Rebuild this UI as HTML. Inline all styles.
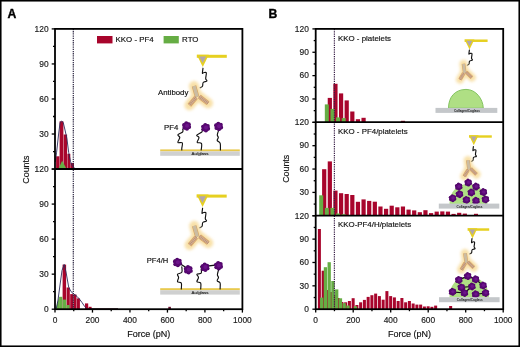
<!DOCTYPE html>
<html><head><meta charset="utf-8"><title>Figure</title>
<style>html,body{margin:0;padding:0;background:#fff;} body{width:520px;height:347px;overflow:hidden;font-family:"Liberation Sans", sans-serif;} svg{display:block;will-change:transform;}</style>
</head><body>
<svg width="520" height="347" viewBox="0 0 520 347">
<defs>
<filter id="glow" x="-80%" y="-80%" width="260%" height="260%"><feGaussianBlur stdDeviation="1.7"/></filter>
<filter id="soft" x="-20%" y="-20%" width="140%" height="140%"><feGaussianBlur stdDeviation="0.35"/></filter>
</defs>
<style>.ax{stroke:#000;stroke-width:1.3;} .tl{font-family:"Liberation Sans", sans-serif;font-size:8.4px;fill:#1a1a1a;stroke:#1a1a1a;stroke-width:0.16px;} text{font-family:"Liberation Sans", sans-serif;} .lb{fill:#111;stroke:#111;stroke-width:0.16px;}</style>
<rect x="0" y="0" width="520" height="347" fill="#fff"/>
<rect x="56.10" y="156.30" width="3.30" height="12.70" fill="#a8052c"/>
<rect x="59.60" y="121.30" width="3.80" height="47.70" fill="#a8052c"/>
<rect x="63.70" y="134.50" width="3.40" height="34.50" fill="#a8052c"/>
<rect x="67.40" y="153.80" width="2.90" height="15.20" fill="#a8052c"/>
<rect x="70.40" y="163.00" width="3.60" height="6.00" fill="#a8052c"/>
<polygon points="58.3,169.0 62.2,160.8 66.6,169.0" fill="#66ad44"/>
<rect x="86" y="168.1" width="18" height="0.9" fill="#5a1020"/>
<polyline points="55.3,162 56.6,152.2 58.5,135 60.1,122.4 61.7,121.2 63.2,122.4 65,130 66.9,138.5 68.7,152.5 70.5,161.5 72.5,166.3 75,168.5 78,169" fill="none" stroke="#2c2c5c" stroke-width="0.9"/>
<rect x="62.60" y="264.60" width="3.50" height="44.60" fill="#a8052c"/>
<rect x="66.60" y="287.50" width="3.20" height="21.70" fill="#a8052c"/>
<rect x="70.20" y="294.10" width="3.00" height="15.10" fill="#a8052c"/>
<rect x="73.40" y="294.50" width="3.10" height="14.70" fill="#a8052c"/>
<rect x="76.80" y="298.40" width="3.10" height="10.80" fill="#a8052c"/>
<rect x="85.00" y="303.40" width="3.20" height="5.80" fill="#a8052c"/>
<rect x="88.60" y="306.80" width="3.00" height="2.40" fill="#a8052c"/>
<rect x="59.10" y="296.80" width="3.20" height="12.40" fill="#66ad44"/>
<rect x="62.60" y="299.60" width="3.60" height="9.60" fill="#66ad44"/>
<rect x="66.50" y="305.00" width="3.00" height="4.20" fill="#66ad44"/>
<polygon points="55.6,309.2 59.1,296.8 59.1,309.2" fill="#66ad44"/>
<rect x="168.3" y="306.8" width="2.6" height="2.2" fill="#6a1030"/>
<rect x="88" y="308.3" width="30" height="0.9" fill="#3a1020"/>
<polyline points="56.3,308.5 58,300 60,285 62,270.5 64.2,264.4 66,272 68.7,287.2 71,291.6 73.7,293.9 77,296.4 79.6,299.3 82,302.5 84.6,306.4 86.5,308.6" fill="none" stroke="#2c2c5c" stroke-width="0.9"/>
<line x1="73.3" y1="28.9" x2="73.3" y2="309.2" stroke="#2a2440" stroke-width="1.2" stroke-dasharray="1.3,0.9"/>
<rect x="55.0" y="28.9" width="187.4" height="280.3" fill="none" stroke="#000" stroke-width="1.8"/>
<line x1="55.0" y1="169.0" x2="242.4" y2="169.0" stroke="#000" stroke-width="1.8"/>
<line x1="51.70" y1="28.90" x2="55.00" y2="28.90" class="ax"/>
<line x1="53.00" y1="46.42" x2="55.00" y2="46.42" class="ax"/>
<line x1="51.70" y1="63.94" x2="55.00" y2="63.94" class="ax"/>
<line x1="53.00" y1="81.46" x2="55.00" y2="81.46" class="ax"/>
<line x1="51.70" y1="98.97" x2="55.00" y2="98.97" class="ax"/>
<line x1="53.00" y1="116.49" x2="55.00" y2="116.49" class="ax"/>
<line x1="51.70" y1="134.01" x2="55.00" y2="134.01" class="ax"/>
<line x1="53.00" y1="151.53" x2="55.00" y2="151.53" class="ax"/>
<line x1="51.70" y1="169.05" x2="55.00" y2="169.05" class="ax"/>
<text x="48.60" y="31.70" class="tl" text-anchor="end">120</text>
<text x="48.60" y="66.74" class="tl" text-anchor="end">90</text>
<text x="48.60" y="101.77" class="tl" text-anchor="end">60</text>
<text x="48.60" y="136.81" class="tl" text-anchor="end">30</text>
<line x1="51.70" y1="169.05" x2="55.00" y2="169.05" class="ax"/>
<line x1="53.00" y1="186.57" x2="55.00" y2="186.57" class="ax"/>
<line x1="51.70" y1="204.09" x2="55.00" y2="204.09" class="ax"/>
<line x1="53.00" y1="221.61" x2="55.00" y2="221.61" class="ax"/>
<line x1="51.70" y1="239.12" x2="55.00" y2="239.12" class="ax"/>
<line x1="53.00" y1="256.64" x2="55.00" y2="256.64" class="ax"/>
<line x1="51.70" y1="274.16" x2="55.00" y2="274.16" class="ax"/>
<line x1="53.00" y1="291.68" x2="55.00" y2="291.68" class="ax"/>
<line x1="51.70" y1="309.20" x2="55.00" y2="309.20" class="ax"/>
<text x="48.60" y="171.85" class="tl" text-anchor="end">120</text>
<text x="48.60" y="206.89" class="tl" text-anchor="end">90</text>
<text x="48.60" y="241.93" class="tl" text-anchor="end">60</text>
<text x="48.60" y="276.96" class="tl" text-anchor="end">30</text>
<text x="48.60" y="312.00" class="tl" text-anchor="end">0</text>
<line x1="55.00" y1="309.20" x2="55.00" y2="312.60" class="ax"/>
<text x="55.00" y="323.20" class="tl" text-anchor="middle">0</text>
<line x1="73.74" y1="309.20" x2="73.74" y2="311.20" class="ax"/>
<line x1="92.48" y1="309.20" x2="92.48" y2="312.60" class="ax"/>
<text x="92.48" y="323.20" class="tl" text-anchor="middle">200</text>
<line x1="111.22" y1="309.20" x2="111.22" y2="311.20" class="ax"/>
<line x1="129.96" y1="309.20" x2="129.96" y2="312.60" class="ax"/>
<text x="129.96" y="323.20" class="tl" text-anchor="middle">400</text>
<line x1="148.70" y1="309.20" x2="148.70" y2="311.20" class="ax"/>
<line x1="167.44" y1="309.20" x2="167.44" y2="312.60" class="ax"/>
<text x="167.44" y="323.20" class="tl" text-anchor="middle">600</text>
<line x1="186.18" y1="309.20" x2="186.18" y2="311.20" class="ax"/>
<line x1="204.92" y1="309.20" x2="204.92" y2="312.60" class="ax"/>
<text x="204.92" y="323.20" class="tl" text-anchor="middle">800</text>
<line x1="223.66" y1="309.20" x2="223.66" y2="311.20" class="ax"/>
<line x1="242.40" y1="309.20" x2="242.40" y2="312.60" class="ax"/>
<text x="242.40" y="323.20" class="tl" text-anchor="middle">1000</text>
<rect x="97" y="36" width="15.5" height="7.4" fill="#a8052c"/>
<text x="115.6" y="42.3" font-size="7.9" class="lb">KKO - PF4</text>
<rect x="163.6" y="36" width="15.2" height="7.4" fill="#66ad44"/>
<text x="182.1" y="42.3" font-size="7.9" class="lb">RTO</text>
<g><rect x="196.80" y="54.80" width="30.00" height="3.00" fill="#e6d020"/><polygon points="196.80,54.80 208.80,54.80 202.80,67.10" fill="#e6d020"/><polygon points="199.10,56.40 206.20,56.40 202.70,63.10" fill="#b2a6ae"/></g>
<path d="M203.00,68.20 C202.90,69.03 202.30,72.45 202.40,73.20 C202.50,73.95 202.95,72.77 203.60,72.70 C204.25,72.63 205.95,71.82 206.30,72.80 C206.65,73.78 205.60,77.23 205.70,78.60 C205.80,79.97 207.32,80.35 206.90,81.00 C206.48,81.65 203.93,81.63 203.20,82.50 C202.47,83.37 203.02,85.32 202.50,86.20 C201.98,87.08 200.50,87.53 200.10,87.80" fill="none" stroke="#111" stroke-width="1.15" stroke-linejoin="round" stroke-linecap="round"/>
<g transform="translate(197.60,96.60) scale(1.0)"><g filter="url(#glow)" opacity="0.95"><line x1="-0.5" y1="0.2" x2="-3.6" y2="-10.6" stroke="#f8dfa4" stroke-width="10" stroke-linecap="round"/><line x1="-1.6" y1="0.8" x2="-8.2" y2="8.6" stroke="#f8dfa4" stroke-width="10" stroke-linecap="round"/><line x1="1.8" y1="0.0" x2="10.4" y2="6.6" stroke="#f8dfa4" stroke-width="10" stroke-linecap="round"/></g><line x1="-0.5" y1="0.2" x2="-3.6" y2="-10.6" stroke="#d9a663" stroke-width="4.6"/><line x1="-0.5" y1="0.2" x2="-3.6" y2="-10.6" stroke="#cbbca2" stroke-width="3.4"/><line x1="-1.6" y1="0.8" x2="-8.2" y2="8.6" stroke="#d9a663" stroke-width="4.6"/><line x1="-1.6" y1="0.8" x2="-8.2" y2="8.6" stroke="#d5ae8c" stroke-width="3.4"/><line x1="-1.6" y1="0.8" x2="-8.2" y2="8.6" stroke="#a88070" stroke-width="2.6" stroke-dasharray="0.5,1.2"/><line x1="1.8" y1="0.0" x2="10.4" y2="6.6" stroke="#d9a663" stroke-width="4.6"/><line x1="1.8" y1="0.0" x2="10.4" y2="6.6" stroke="#d5ae8c" stroke-width="3.4"/><line x1="1.8" y1="0.0" x2="10.4" y2="6.6" stroke="#a88070" stroke-width="2.6" stroke-dasharray="0.5,1.2"/></g>
<text x="158" y="95.4" font-size="7.8" class="lb">Antibody</text>
<text x="164" y="129.6" font-size="7.8" class="lb">PF4</text>
<rect x="160.20" y="149.40" width="79.60" height="2.0" fill="#e8c94e"/><rect x="160.20" y="151.40" width="79.60" height="4.4" fill="#cfd0d0"/><text x="200.00" y="154.80" font-size="4.4" text-anchor="middle" fill="#222" stroke="#222" stroke-width="0.12">Au/glass</text>
<path d="M182.70,129.00 C182.70,129.47 183.50,130.85 182.70,131.80 C181.90,132.75 178.38,133.73 177.90,134.70 C177.42,135.67 179.80,136.32 179.80,137.60 C179.80,138.88 177.48,141.52 177.90,142.40 C178.32,143.28 181.65,141.93 182.30,142.90 C182.95,143.87 181.88,147.02 181.80,148.20 C181.72,149.38 181.80,149.70 181.80,150.00" fill="none" stroke="#111" stroke-width="1.15" stroke-linejoin="round" stroke-linecap="round"/>
<path d="M202.00,129.00 C202.00,129.47 202.88,130.77 202.00,131.80 C201.12,132.83 197.20,134.23 196.70,135.20 C196.20,136.17 198.92,136.40 199.00,137.60 C199.08,138.80 196.78,141.43 197.20,142.40 C197.62,143.37 200.83,142.13 201.50,143.40 C202.17,144.67 201.25,148.90 201.20,150.00" fill="none" stroke="#111" stroke-width="1.15" stroke-linejoin="round" stroke-linecap="round"/>
<path d="M218.80,129.90 C218.55,130.70 217.38,133.42 217.30,134.70 C217.22,135.98 218.32,136.63 218.30,137.60 C218.28,138.57 216.88,139.53 217.20,140.50 C217.52,141.47 219.67,141.82 220.20,143.40 C220.73,144.98 220.37,148.90 220.40,150.00" fill="none" stroke="#111" stroke-width="1.15" stroke-linejoin="round" stroke-linecap="round"/>
<g><circle cx="189.15" cy="127.08" r="1.97" fill="#4e0466"/><circle cx="186.94" cy="128.75" r="1.97" fill="#4e0466"/><circle cx="184.39" cy="127.67" r="1.97" fill="#4e0466"/><circle cx="184.05" cy="124.92" r="1.97" fill="#4e0466"/><circle cx="186.26" cy="123.25" r="1.97" fill="#4e0466"/><circle cx="188.81" cy="124.33" r="1.97" fill="#4e0466"/><circle cx="186.60" cy="126.00" r="3.76" fill="#580872"/><circle cx="187.05" cy="125.78" r="2.01" fill="#6c148a"/></g>
<g><circle cx="208.15" cy="128.78" r="1.97" fill="#4e0466"/><circle cx="205.94" cy="130.45" r="1.97" fill="#4e0466"/><circle cx="203.39" cy="129.37" r="1.97" fill="#4e0466"/><circle cx="203.05" cy="126.62" r="1.97" fill="#4e0466"/><circle cx="205.26" cy="124.95" r="1.97" fill="#4e0466"/><circle cx="207.81" cy="126.03" r="1.97" fill="#4e0466"/><circle cx="205.60" cy="127.70" r="3.76" fill="#580872"/><circle cx="206.05" cy="127.48" r="2.01" fill="#6c148a"/></g>
<g><circle cx="221.15" cy="127.48" r="1.97" fill="#4e0466"/><circle cx="218.94" cy="129.15" r="1.97" fill="#4e0466"/><circle cx="216.39" cy="128.07" r="1.97" fill="#4e0466"/><circle cx="216.05" cy="125.32" r="1.97" fill="#4e0466"/><circle cx="218.26" cy="123.65" r="1.97" fill="#4e0466"/><circle cx="220.81" cy="124.73" r="1.97" fill="#4e0466"/><circle cx="218.60" cy="126.40" r="3.76" fill="#580872"/><circle cx="219.05" cy="126.18" r="2.01" fill="#6c148a"/></g>
<g><rect x="196.60" y="194.60" width="30.10" height="3.00" fill="#e6d020"/><polygon points="196.60,194.60 208.60,194.60 202.60,206.90" fill="#e6d020"/><polygon points="198.90,196.20 206.00,196.20 202.50,202.90" fill="#b2a6ae"/></g>
<path d="M202.60,208.20 C202.50,209.03 201.90,212.45 202.00,213.20 C202.10,213.95 202.55,212.77 203.20,212.70 C203.85,212.63 205.55,211.82 205.90,212.80 C206.25,213.78 205.20,217.23 205.30,218.60 C205.40,219.97 206.92,220.35 206.50,221.00 C206.08,221.65 203.53,221.63 202.80,222.50 C202.07,223.37 202.62,225.32 202.10,226.20 C201.58,227.08 200.10,227.53 199.70,227.80" fill="none" stroke="#111" stroke-width="1.15" stroke-linejoin="round" stroke-linecap="round"/>
<g transform="translate(197.80,236.40) scale(1.0)"><g filter="url(#glow)" opacity="0.95"><line x1="-0.5" y1="0.2" x2="-3.6" y2="-10.6" stroke="#f8dfa4" stroke-width="10" stroke-linecap="round"/><line x1="-1.6" y1="0.8" x2="-8.2" y2="8.6" stroke="#f8dfa4" stroke-width="10" stroke-linecap="round"/><line x1="1.8" y1="0.0" x2="10.4" y2="6.6" stroke="#f8dfa4" stroke-width="10" stroke-linecap="round"/></g><line x1="-0.5" y1="0.2" x2="-3.6" y2="-10.6" stroke="#d9a663" stroke-width="4.6"/><line x1="-0.5" y1="0.2" x2="-3.6" y2="-10.6" stroke="#cbbca2" stroke-width="3.4"/><line x1="-1.6" y1="0.8" x2="-8.2" y2="8.6" stroke="#d9a663" stroke-width="4.6"/><line x1="-1.6" y1="0.8" x2="-8.2" y2="8.6" stroke="#d5ae8c" stroke-width="3.4"/><line x1="-1.6" y1="0.8" x2="-8.2" y2="8.6" stroke="#a88070" stroke-width="2.6" stroke-dasharray="0.5,1.2"/><line x1="1.8" y1="0.0" x2="10.4" y2="6.6" stroke="#d9a663" stroke-width="4.6"/><line x1="1.8" y1="0.0" x2="10.4" y2="6.6" stroke="#d5ae8c" stroke-width="3.4"/><line x1="1.8" y1="0.0" x2="10.4" y2="6.6" stroke="#a88070" stroke-width="2.6" stroke-dasharray="0.5,1.2"/></g>
<text x="146.8" y="263.1" font-size="7.6" class="lb">PF4/H</text>
<rect x="160.20" y="288.20" width="79.60" height="2.0" fill="#e8c94e"/><rect x="160.20" y="290.20" width="79.60" height="4.4" fill="#cfd0d0"/><text x="200.00" y="293.60" font-size="4.4" text-anchor="middle" fill="#222" stroke="#222" stroke-width="0.12">Au/glass</text>
<path d="M181.80,266.80 C181.80,267.70 182.52,270.95 181.80,272.20 C181.08,273.45 178.03,273.42 177.50,274.30 C176.97,275.18 178.60,276.25 178.60,277.50 C178.60,278.75 177.05,280.90 177.50,281.80 C177.95,282.70 180.67,281.70 181.30,282.90 C181.93,284.10 181.30,287.98 181.30,289.00" fill="none" stroke="#111" stroke-width="1.15" stroke-linejoin="round" stroke-linecap="round"/>
<path d="M201.20,268.90 C201.20,269.62 201.92,272.30 201.20,273.20 C200.48,274.10 197.35,273.58 196.90,274.30 C196.45,275.02 198.50,276.25 198.50,277.50 C198.50,278.75 196.53,280.90 196.90,281.80 C197.27,282.70 200.07,281.70 200.70,282.90 C201.33,284.10 200.70,287.98 200.70,289.00" fill="none" stroke="#111" stroke-width="1.15" stroke-linejoin="round" stroke-linecap="round"/>
<path d="M218.50,270.00 C218.32,270.80 217.40,273.55 217.40,274.80 C217.40,276.05 218.53,276.50 218.50,277.50 C218.47,278.50 216.93,279.90 217.20,280.80 C217.47,281.70 219.62,281.53 220.10,282.90 C220.58,284.27 220.10,287.98 220.10,289.00" fill="none" stroke="#111" stroke-width="1.15" stroke-linejoin="round" stroke-linecap="round"/>
<line x1="173.8" y1="259.8" x2="186" y2="267.5" stroke="#111" stroke-width="1.3"/>
<line x1="200.2" y1="267" x2="215" y2="265.2" stroke="#111" stroke-width="1.3"/>
<g><circle cx="180.05" cy="263.58" r="1.97" fill="#4e0466"/><circle cx="177.84" cy="265.25" r="1.97" fill="#4e0466"/><circle cx="175.29" cy="264.17" r="1.97" fill="#4e0466"/><circle cx="174.95" cy="261.42" r="1.97" fill="#4e0466"/><circle cx="177.16" cy="259.75" r="1.97" fill="#4e0466"/><circle cx="179.71" cy="260.83" r="1.97" fill="#4e0466"/><circle cx="177.50" cy="262.50" r="3.76" fill="#580872"/><circle cx="177.95" cy="262.28" r="2.01" fill="#6c148a"/></g>
<g><circle cx="190.85" cy="270.88" r="1.97" fill="#4e0466"/><circle cx="188.64" cy="272.55" r="1.97" fill="#4e0466"/><circle cx="186.09" cy="271.47" r="1.97" fill="#4e0466"/><circle cx="185.75" cy="268.72" r="1.97" fill="#4e0466"/><circle cx="187.96" cy="267.05" r="1.97" fill="#4e0466"/><circle cx="190.51" cy="268.13" r="1.97" fill="#4e0466"/><circle cx="188.30" cy="269.80" r="3.76" fill="#580872"/><circle cx="188.75" cy="269.58" r="2.01" fill="#6c148a"/></g>
<g><circle cx="207.55" cy="268.38" r="1.97" fill="#4e0466"/><circle cx="205.34" cy="270.05" r="1.97" fill="#4e0466"/><circle cx="202.79" cy="268.97" r="1.97" fill="#4e0466"/><circle cx="202.45" cy="266.22" r="1.97" fill="#4e0466"/><circle cx="204.66" cy="264.55" r="1.97" fill="#4e0466"/><circle cx="207.21" cy="265.63" r="1.97" fill="#4e0466"/><circle cx="205.00" cy="267.30" r="3.76" fill="#580872"/><circle cx="205.45" cy="267.08" r="2.01" fill="#6c148a"/></g>
<g><circle cx="221.05" cy="266.78" r="1.97" fill="#4e0466"/><circle cx="218.84" cy="268.45" r="1.97" fill="#4e0466"/><circle cx="216.29" cy="267.37" r="1.97" fill="#4e0466"/><circle cx="215.95" cy="264.62" r="1.97" fill="#4e0466"/><circle cx="218.16" cy="262.95" r="1.97" fill="#4e0466"/><circle cx="220.71" cy="264.03" r="1.97" fill="#4e0466"/><circle cx="218.50" cy="265.70" r="3.76" fill="#580872"/><circle cx="218.95" cy="265.48" r="2.01" fill="#6c148a"/></g>
<rect x="327.73" y="97.90" width="4.20" height="24.15" fill="#a8052c"/>
<rect x="333.35" y="83.80" width="4.20" height="38.25" fill="#a8052c"/>
<rect x="338.98" y="93.40" width="4.20" height="28.65" fill="#a8052c"/>
<rect x="344.60" y="100.40" width="4.20" height="21.65" fill="#a8052c"/>
<rect x="350.23" y="111.50" width="4.20" height="10.55" fill="#a8052c"/>
<rect x="355.85" y="119.20" width="4.20" height="2.85" fill="#a8052c"/>
<rect x="361.48" y="117.80" width="4.20" height="4.25" fill="#a8052c"/>
<rect x="400.85" y="120.80" width="4.20" height="1.25" fill="#a8052c"/>
<rect x="324.82" y="104.40" width="4.00" height="17.65" fill="#66ad44"/>
<rect x="330.45" y="108.90" width="4.00" height="13.15" fill="#66ad44"/>
<rect x="336.07" y="117.40" width="4.00" height="4.65" fill="#66ad44"/>
<rect x="341.70" y="118.10" width="4.00" height="3.95" fill="#66ad44"/>
<rect x="322.10" y="169.20" width="4.20" height="46.40" fill="#a8052c"/>
<rect x="327.73" y="161.40" width="4.20" height="54.20" fill="#a8052c"/>
<rect x="333.35" y="190.60" width="4.20" height="25.00" fill="#a8052c"/>
<rect x="338.98" y="193.20" width="4.20" height="22.40" fill="#a8052c"/>
<rect x="344.60" y="194.00" width="4.20" height="21.60" fill="#a8052c"/>
<rect x="350.23" y="195.00" width="4.20" height="20.60" fill="#a8052c"/>
<rect x="355.85" y="201.80" width="4.20" height="13.80" fill="#a8052c"/>
<rect x="361.48" y="199.40" width="4.20" height="16.20" fill="#a8052c"/>
<rect x="367.10" y="200.90" width="4.20" height="14.70" fill="#a8052c"/>
<rect x="372.73" y="201.70" width="4.20" height="13.90" fill="#a8052c"/>
<rect x="378.35" y="206.50" width="4.20" height="9.10" fill="#a8052c"/>
<rect x="383.98" y="208.80" width="4.20" height="6.80" fill="#a8052c"/>
<rect x="389.60" y="205.70" width="4.20" height="9.90" fill="#a8052c"/>
<rect x="395.23" y="207.30" width="4.20" height="8.30" fill="#a8052c"/>
<rect x="400.85" y="206.50" width="4.20" height="9.10" fill="#a8052c"/>
<rect x="406.48" y="209.60" width="4.20" height="6.00" fill="#a8052c"/>
<rect x="412.10" y="210.40" width="4.20" height="5.20" fill="#a8052c"/>
<rect x="417.73" y="212.20" width="4.20" height="3.40" fill="#a8052c"/>
<rect x="423.35" y="210.20" width="4.20" height="5.40" fill="#a8052c"/>
<rect x="428.98" y="213.10" width="4.20" height="2.50" fill="#a8052c"/>
<rect x="434.60" y="211.60" width="4.20" height="4.00" fill="#a8052c"/>
<rect x="440.23" y="211.40" width="4.20" height="4.20" fill="#a8052c"/>
<rect x="445.85" y="211.60" width="4.20" height="4.00" fill="#a8052c"/>
<rect x="451.48" y="213.90" width="4.20" height="1.70" fill="#a8052c"/>
<rect x="457.10" y="212.80" width="4.20" height="2.80" fill="#a8052c"/>
<rect x="462.73" y="213.60" width="4.20" height="2.00" fill="#a8052c"/>
<rect x="473.98" y="213.80" width="4.00" height="1.80" fill="#a8052c"/>
<rect x="319.20" y="195.30" width="4.00" height="20.30" fill="#66ad44"/>
<rect x="324.82" y="207.90" width="4.00" height="7.70" fill="#66ad44"/>
<rect x="330.45" y="207.90" width="4.00" height="7.70" fill="#66ad44"/>
<rect x="336.07" y="213.50" width="4.00" height="2.10" fill="#66ad44"/>
<rect x="341.70" y="214.20" width="4.00" height="1.40" fill="#66ad44"/>
<rect x="317.90" y="229.00" width="3.00" height="80.20" fill="#a8052c"/>
<rect x="321.65" y="270.70" width="3.00" height="38.50" fill="#a8052c"/>
<rect x="325.40" y="290.00" width="3.00" height="19.20" fill="#a8052c"/>
<rect x="329.15" y="292.00" width="3.00" height="17.20" fill="#a8052c"/>
<rect x="332.90" y="295.00" width="3.00" height="14.20" fill="#a8052c"/>
<rect x="336.65" y="298.00" width="3.00" height="11.20" fill="#a8052c"/>
<rect x="340.40" y="302.00" width="3.00" height="7.20" fill="#a8052c"/>
<rect x="344.15" y="302.30" width="3.00" height="6.90" fill="#a8052c"/>
<rect x="347.90" y="301.00" width="3.00" height="8.20" fill="#a8052c"/>
<rect x="351.65" y="298.20" width="3.00" height="11.00" fill="#a8052c"/>
<rect x="355.40" y="305.00" width="3.00" height="4.20" fill="#a8052c"/>
<rect x="359.15" y="302.30" width="3.00" height="6.90" fill="#a8052c"/>
<rect x="362.90" y="299.90" width="3.00" height="9.30" fill="#a8052c"/>
<rect x="366.65" y="296.90" width="3.00" height="12.30" fill="#a8052c"/>
<rect x="370.40" y="295.20" width="3.00" height="14.00" fill="#a8052c"/>
<rect x="374.15" y="293.60" width="3.00" height="15.60" fill="#a8052c"/>
<rect x="377.90" y="296.10" width="3.00" height="13.10" fill="#a8052c"/>
<rect x="381.65" y="299.70" width="3.00" height="9.50" fill="#a8052c"/>
<rect x="385.40" y="291.10" width="3.00" height="18.10" fill="#a8052c"/>
<rect x="389.15" y="296.10" width="3.00" height="13.10" fill="#a8052c"/>
<rect x="392.90" y="297.40" width="3.00" height="11.80" fill="#a8052c"/>
<rect x="396.65" y="301.00" width="3.00" height="8.20" fill="#a8052c"/>
<rect x="400.40" y="298.00" width="3.00" height="11.20" fill="#a8052c"/>
<rect x="404.15" y="302.30" width="3.00" height="6.90" fill="#a8052c"/>
<rect x="407.90" y="301.00" width="3.00" height="8.20" fill="#a8052c"/>
<rect x="411.65" y="303.50" width="3.00" height="5.70" fill="#a8052c"/>
<rect x="415.40" y="304.60" width="3.00" height="4.60" fill="#a8052c"/>
<rect x="419.15" y="304.60" width="3.00" height="4.60" fill="#a8052c"/>
<rect x="422.90" y="306.50" width="3.00" height="2.70" fill="#a8052c"/>
<rect x="426.65" y="306.30" width="3.00" height="2.90" fill="#a8052c"/>
<rect x="430.40" y="306.80" width="3.00" height="2.40" fill="#a8052c"/>
<rect x="434.15" y="305.60" width="3.00" height="3.60" fill="#a8052c"/>
<rect x="449.15" y="306.00" width="3.00" height="3.20" fill="#a8052c"/>
<rect x="320.05" y="297.60" width="3.30" height="11.60" fill="#66ad44"/>
<rect x="323.80" y="267.20" width="3.30" height="42.00" fill="#66ad44"/>
<rect x="327.55" y="262.20" width="3.30" height="47.00" fill="#66ad44"/>
<rect x="331.30" y="281.00" width="3.30" height="28.20" fill="#66ad44"/>
<rect x="335.05" y="289.40" width="3.30" height="19.80" fill="#66ad44"/>
<rect x="338.80" y="298.30" width="3.30" height="10.90" fill="#66ad44"/>
<rect x="342.55" y="303.20" width="3.30" height="6.00" fill="#66ad44"/>
<rect x="346.30" y="305.50" width="3.30" height="3.70" fill="#66ad44"/>
<rect x="353.80" y="306.30" width="3.30" height="2.90" fill="#66ad44"/>
<line x1="334.4" y1="28.9" x2="334.4" y2="309.2" stroke="#3a2048" stroke-width="1.2" stroke-dasharray="1.3,0.95"/>
<rect x="315.7" y="28.9" width="187.5" height="280.3" fill="none" stroke="#000" stroke-width="1.8"/>
<line x1="315.7" y1="122.05" x2="503.2" y2="122.05" stroke="#000" stroke-width="1.8"/>
<line x1="315.7" y1="215.6" x2="503.2" y2="215.6" stroke="#000" stroke-width="1.8"/>
<line x1="312.40" y1="28.90" x2="315.70" y2="28.90" class="ax"/>
<line x1="313.70" y1="40.58" x2="315.70" y2="40.58" class="ax"/>
<line x1="312.40" y1="52.26" x2="315.70" y2="52.26" class="ax"/>
<line x1="313.70" y1="63.94" x2="315.70" y2="63.94" class="ax"/>
<line x1="312.40" y1="75.62" x2="315.70" y2="75.62" class="ax"/>
<line x1="313.70" y1="87.30" x2="315.70" y2="87.30" class="ax"/>
<line x1="312.40" y1="98.97" x2="315.70" y2="98.97" class="ax"/>
<line x1="313.70" y1="110.65" x2="315.70" y2="110.65" class="ax"/>
<line x1="312.40" y1="122.33" x2="315.70" y2="122.33" class="ax"/>
<text x="308.80" y="31.70" class="tl" text-anchor="end">120</text>
<text x="308.80" y="55.06" class="tl" text-anchor="end">90</text>
<text x="308.80" y="78.42" class="tl" text-anchor="end">60</text>
<text x="308.80" y="101.77" class="tl" text-anchor="end">30</text>
<line x1="312.40" y1="122.33" x2="315.70" y2="122.33" class="ax"/>
<line x1="313.70" y1="134.01" x2="315.70" y2="134.01" class="ax"/>
<line x1="312.40" y1="145.69" x2="315.70" y2="145.69" class="ax"/>
<line x1="313.70" y1="157.37" x2="315.70" y2="157.37" class="ax"/>
<line x1="312.40" y1="169.05" x2="315.70" y2="169.05" class="ax"/>
<line x1="313.70" y1="180.73" x2="315.70" y2="180.73" class="ax"/>
<line x1="312.40" y1="192.41" x2="315.70" y2="192.41" class="ax"/>
<line x1="313.70" y1="204.09" x2="315.70" y2="204.09" class="ax"/>
<line x1="312.40" y1="215.77" x2="315.70" y2="215.77" class="ax"/>
<text x="308.80" y="125.13" class="tl" text-anchor="end">120</text>
<text x="308.80" y="148.49" class="tl" text-anchor="end">90</text>
<text x="308.80" y="171.85" class="tl" text-anchor="end">60</text>
<text x="308.80" y="195.21" class="tl" text-anchor="end">30</text>
<line x1="312.40" y1="215.77" x2="315.70" y2="215.77" class="ax"/>
<line x1="313.70" y1="227.45" x2="315.70" y2="227.45" class="ax"/>
<line x1="312.40" y1="239.12" x2="315.70" y2="239.12" class="ax"/>
<line x1="313.70" y1="250.80" x2="315.70" y2="250.80" class="ax"/>
<line x1="312.40" y1="262.48" x2="315.70" y2="262.48" class="ax"/>
<line x1="313.70" y1="274.16" x2="315.70" y2="274.16" class="ax"/>
<line x1="312.40" y1="285.84" x2="315.70" y2="285.84" class="ax"/>
<line x1="313.70" y1="297.52" x2="315.70" y2="297.52" class="ax"/>
<line x1="312.40" y1="309.20" x2="315.70" y2="309.20" class="ax"/>
<text x="308.80" y="218.57" class="tl" text-anchor="end">120</text>
<text x="308.80" y="241.93" class="tl" text-anchor="end">90</text>
<text x="308.80" y="265.28" class="tl" text-anchor="end">60</text>
<text x="308.80" y="288.64" class="tl" text-anchor="end">30</text>
<text x="308.80" y="312.00" class="tl" text-anchor="end">0</text>
<line x1="315.70" y1="309.20" x2="315.70" y2="312.60" class="ax"/>
<text x="315.70" y="323.20" class="tl" text-anchor="middle">0</text>
<line x1="334.45" y1="309.20" x2="334.45" y2="311.20" class="ax"/>
<line x1="353.20" y1="309.20" x2="353.20" y2="312.60" class="ax"/>
<text x="353.20" y="323.20" class="tl" text-anchor="middle">200</text>
<line x1="371.95" y1="309.20" x2="371.95" y2="311.20" class="ax"/>
<line x1="390.70" y1="309.20" x2="390.70" y2="312.60" class="ax"/>
<text x="390.70" y="323.20" class="tl" text-anchor="middle">400</text>
<line x1="409.45" y1="309.20" x2="409.45" y2="311.20" class="ax"/>
<line x1="428.20" y1="309.20" x2="428.20" y2="312.60" class="ax"/>
<text x="428.20" y="323.20" class="tl" text-anchor="middle">600</text>
<line x1="446.95" y1="309.20" x2="446.95" y2="311.20" class="ax"/>
<line x1="465.70" y1="309.20" x2="465.70" y2="312.60" class="ax"/>
<text x="465.70" y="323.20" class="tl" text-anchor="middle">800</text>
<line x1="484.45" y1="309.20" x2="484.45" y2="311.20" class="ax"/>
<line x1="503.20" y1="309.20" x2="503.20" y2="312.60" class="ax"/>
<text x="503.20" y="323.20" class="tl" text-anchor="middle">1000</text>
<text x="338.0" y="41.1" font-size="7.9" class="lb">KKO - platelets</text>
<text x="338.0" y="134.4" font-size="7.9" class="lb">KKO - PF4/platelets</text>
<text x="338.0" y="227.4" font-size="7.9" class="lb">KKO-PF4/H/platelets</text>
<g><rect x="464.60" y="39.50" width="23.00" height="2.46" fill="#e6d020"/><polygon points="464.60,39.50 474.44,39.50 469.52,49.59" fill="#e6d020"/><polygon points="466.49,40.81 472.31,40.81 469.44,46.31" fill="#b2a6ae"/></g>
<path d="M469.40,50.00 C469.32,50.65 468.85,53.31 468.93,53.90 C469.01,54.48 469.36,53.56 469.87,53.51 C470.38,53.46 471.70,52.82 471.97,53.59 C472.25,54.36 471.43,57.05 471.51,58.11 C471.58,59.18 472.77,59.48 472.44,59.98 C472.12,60.49 470.13,60.48 469.56,61.15 C468.98,61.83 469.41,63.35 469.01,64.04 C468.61,64.73 467.45,65.08 467.14,65.29" fill="none" stroke="#111" stroke-width="1.15" stroke-linejoin="round" stroke-linecap="round"/>
<g transform="translate(465.00,72.80) scale(0.8)"><g filter="url(#glow)" opacity="0.95"><line x1="-0.3" y1="0.2" x2="-1.9" y2="-11.2" stroke="#f8dfa4" stroke-width="10" stroke-linecap="round"/><line x1="-1.6" y1="0.6" x2="-6.2" y2="8.4" stroke="#f8dfa4" stroke-width="10" stroke-linecap="round"/><line x1="1.4" y1="-0.8" x2="8.6" y2="6.0" stroke="#f8dfa4" stroke-width="10" stroke-linecap="round"/></g><line x1="-0.3" y1="0.2" x2="-1.9" y2="-11.2" stroke="#d9a663" stroke-width="4.6"/><line x1="-0.3" y1="0.2" x2="-1.9" y2="-11.2" stroke="#cbbca2" stroke-width="3.4"/><line x1="-1.6" y1="0.6" x2="-6.2" y2="8.4" stroke="#d9a663" stroke-width="4.6"/><line x1="-1.6" y1="0.6" x2="-6.2" y2="8.4" stroke="#d5ae8c" stroke-width="3.4"/><line x1="-1.6" y1="0.6" x2="-6.2" y2="8.4" stroke="#a88070" stroke-width="2.6" stroke-dasharray="0.5,1.2"/><line x1="1.4" y1="-0.8" x2="8.6" y2="6.0" stroke="#d9a663" stroke-width="4.6"/><line x1="1.4" y1="-0.8" x2="8.6" y2="6.0" stroke="#d5ae8c" stroke-width="3.4"/><line x1="1.4" y1="-0.8" x2="8.6" y2="6.0" stroke="#a88070" stroke-width="2.6" stroke-dasharray="0.5,1.2"/></g>
<path d="M448.5,108.2 C448.5,97 455,89.5 466,89.4 C476,89.3 483,99 483.3,108.2 Z" fill="#afdf84" stroke="#78bd52" stroke-width="0.9"/>
<rect x="435.50" y="107.90" width="61.80" height="5.0" fill="#c4c7ca"/><text x="466.90" y="111.90" font-size="3.1" font-weight="bold" text-anchor="middle" fill="#1a1a1a">Collagen/Coglass</text>
<g><rect x="469.00" y="135.30" width="22.80" height="2.40" fill="#e6d020"/><polygon points="469.00,135.30 478.60,135.30 473.80,145.14" fill="#e6d020"/><polygon points="470.84,136.58 476.52,136.58 473.72,141.94" fill="#b2a6ae"/></g>
<path d="M473.40,146.60 C473.32,147.23 472.87,149.83 472.94,150.40 C473.02,150.97 473.36,150.07 473.86,150.02 C474.35,149.97 475.64,149.35 475.91,150.10 C476.17,150.84 475.38,153.47 475.45,154.50 C475.53,155.54 476.68,155.83 476.36,156.33 C476.05,156.82 474.11,156.81 473.55,157.47 C472.99,158.13 473.41,159.61 473.02,160.28 C472.63,160.95 471.50,161.29 471.20,161.50" fill="none" stroke="#111" stroke-width="1.15" stroke-linejoin="round" stroke-linecap="round"/>
<g transform="translate(469.40,169.40) scale(0.82)"><g filter="url(#glow)" opacity="0.95"><line x1="-0.3" y1="0.2" x2="-1.9" y2="-11.2" stroke="#f8dfa4" stroke-width="10" stroke-linecap="round"/><line x1="-1.6" y1="0.6" x2="-6.2" y2="8.4" stroke="#f8dfa4" stroke-width="10" stroke-linecap="round"/><line x1="1.4" y1="-0.8" x2="8.6" y2="6.0" stroke="#f8dfa4" stroke-width="10" stroke-linecap="round"/></g><line x1="-0.3" y1="0.2" x2="-1.9" y2="-11.2" stroke="#d9a663" stroke-width="4.6"/><line x1="-0.3" y1="0.2" x2="-1.9" y2="-11.2" stroke="#cbbca2" stroke-width="3.4"/><line x1="-1.6" y1="0.6" x2="-6.2" y2="8.4" stroke="#d9a663" stroke-width="4.6"/><line x1="-1.6" y1="0.6" x2="-6.2" y2="8.4" stroke="#d5ae8c" stroke-width="3.4"/><line x1="-1.6" y1="0.6" x2="-6.2" y2="8.4" stroke="#a88070" stroke-width="2.6" stroke-dasharray="0.5,1.2"/><line x1="1.4" y1="-0.8" x2="8.6" y2="6.0" stroke="#d9a663" stroke-width="4.6"/><line x1="1.4" y1="-0.8" x2="8.6" y2="6.0" stroke="#d5ae8c" stroke-width="3.4"/><line x1="1.4" y1="-0.8" x2="8.6" y2="6.0" stroke="#a88070" stroke-width="2.6" stroke-dasharray="0.5,1.2"/></g>
<path d="M449.5,204 C449.5,193 456,184 467.5,184 C479,184 487.5,193 487.5,204 Z" fill="#afdf84"/>
<g><circle cx="460.86" cy="187.51" r="1.66" fill="#4e0466"/><circle cx="458.99" cy="188.93" r="1.66" fill="#4e0466"/><circle cx="456.83" cy="188.01" r="1.66" fill="#4e0466"/><circle cx="456.54" cy="185.69" r="1.66" fill="#4e0466"/><circle cx="458.41" cy="184.27" r="1.66" fill="#4e0466"/><circle cx="460.57" cy="185.19" r="1.66" fill="#4e0466"/><circle cx="458.70" cy="186.60" r="3.18" fill="#580872"/><circle cx="459.08" cy="186.41" r="1.70" fill="#6c148a"/></g>
<g><circle cx="470.36" cy="183.51" r="1.66" fill="#4e0466"/><circle cx="468.49" cy="184.93" r="1.66" fill="#4e0466"/><circle cx="466.33" cy="184.01" r="1.66" fill="#4e0466"/><circle cx="466.04" cy="181.69" r="1.66" fill="#4e0466"/><circle cx="467.91" cy="180.27" r="1.66" fill="#4e0466"/><circle cx="470.07" cy="181.19" r="1.66" fill="#4e0466"/><circle cx="468.20" cy="182.60" r="3.18" fill="#580872"/><circle cx="468.58" cy="182.41" r="1.70" fill="#6c148a"/></g>
<g><circle cx="478.16" cy="187.51" r="1.66" fill="#4e0466"/><circle cx="476.29" cy="188.93" r="1.66" fill="#4e0466"/><circle cx="474.13" cy="188.01" r="1.66" fill="#4e0466"/><circle cx="473.84" cy="185.69" r="1.66" fill="#4e0466"/><circle cx="475.71" cy="184.27" r="1.66" fill="#4e0466"/><circle cx="477.87" cy="185.19" r="1.66" fill="#4e0466"/><circle cx="476.00" cy="186.60" r="3.18" fill="#580872"/><circle cx="476.38" cy="186.41" r="1.70" fill="#6c148a"/></g>
<g><circle cx="461.66" cy="195.11" r="1.66" fill="#4e0466"/><circle cx="459.79" cy="196.53" r="1.66" fill="#4e0466"/><circle cx="457.63" cy="195.61" r="1.66" fill="#4e0466"/><circle cx="457.34" cy="193.29" r="1.66" fill="#4e0466"/><circle cx="459.21" cy="191.87" r="1.66" fill="#4e0466"/><circle cx="461.37" cy="192.79" r="1.66" fill="#4e0466"/><circle cx="459.50" cy="194.20" r="3.18" fill="#580872"/><circle cx="459.88" cy="194.01" r="1.70" fill="#6c148a"/></g>
<g><circle cx="473.46" cy="193.41" r="1.66" fill="#4e0466"/><circle cx="471.59" cy="194.83" r="1.66" fill="#4e0466"/><circle cx="469.43" cy="193.91" r="1.66" fill="#4e0466"/><circle cx="469.14" cy="191.59" r="1.66" fill="#4e0466"/><circle cx="471.01" cy="190.17" r="1.66" fill="#4e0466"/><circle cx="473.17" cy="191.09" r="1.66" fill="#4e0466"/><circle cx="471.30" cy="192.50" r="3.18" fill="#580872"/><circle cx="471.68" cy="192.31" r="1.70" fill="#6c148a"/></g>
<g><circle cx="485.56" cy="193.01" r="1.66" fill="#4e0466"/><circle cx="483.69" cy="194.43" r="1.66" fill="#4e0466"/><circle cx="481.53" cy="193.51" r="1.66" fill="#4e0466"/><circle cx="481.24" cy="191.19" r="1.66" fill="#4e0466"/><circle cx="483.11" cy="189.77" r="1.66" fill="#4e0466"/><circle cx="485.27" cy="190.69" r="1.66" fill="#4e0466"/><circle cx="483.40" cy="192.10" r="3.18" fill="#580872"/><circle cx="483.78" cy="191.91" r="1.70" fill="#6c148a"/></g>
<g><circle cx="454.76" cy="199.11" r="1.66" fill="#4e0466"/><circle cx="452.89" cy="200.53" r="1.66" fill="#4e0466"/><circle cx="450.73" cy="199.61" r="1.66" fill="#4e0466"/><circle cx="450.44" cy="197.29" r="1.66" fill="#4e0466"/><circle cx="452.31" cy="195.87" r="1.66" fill="#4e0466"/><circle cx="454.47" cy="196.79" r="1.66" fill="#4e0466"/><circle cx="452.60" cy="198.20" r="3.18" fill="#580872"/><circle cx="452.98" cy="198.01" r="1.70" fill="#6c148a"/></g>
<g><circle cx="468.56" cy="200.81" r="1.66" fill="#4e0466"/><circle cx="466.69" cy="202.23" r="1.66" fill="#4e0466"/><circle cx="464.53" cy="201.31" r="1.66" fill="#4e0466"/><circle cx="464.24" cy="198.99" r="1.66" fill="#4e0466"/><circle cx="466.11" cy="197.57" r="1.66" fill="#4e0466"/><circle cx="468.27" cy="198.49" r="1.66" fill="#4e0466"/><circle cx="466.40" cy="199.90" r="3.18" fill="#580872"/><circle cx="466.78" cy="199.71" r="1.70" fill="#6c148a"/></g>
<g><circle cx="478.16" cy="201.71" r="1.66" fill="#4e0466"/><circle cx="476.29" cy="203.13" r="1.66" fill="#4e0466"/><circle cx="474.13" cy="202.21" r="1.66" fill="#4e0466"/><circle cx="473.84" cy="199.89" r="1.66" fill="#4e0466"/><circle cx="475.71" cy="198.47" r="1.66" fill="#4e0466"/><circle cx="477.87" cy="199.39" r="1.66" fill="#4e0466"/><circle cx="476.00" cy="200.80" r="3.18" fill="#580872"/><circle cx="476.38" cy="200.61" r="1.70" fill="#6c148a"/></g>
<g><circle cx="487.66" cy="200.31" r="1.66" fill="#4e0466"/><circle cx="485.79" cy="201.73" r="1.66" fill="#4e0466"/><circle cx="483.63" cy="200.81" r="1.66" fill="#4e0466"/><circle cx="483.34" cy="198.49" r="1.66" fill="#4e0466"/><circle cx="485.21" cy="197.07" r="1.66" fill="#4e0466"/><circle cx="487.37" cy="197.99" r="1.66" fill="#4e0466"/><circle cx="485.50" cy="199.40" r="3.18" fill="#580872"/><circle cx="485.88" cy="199.21" r="1.70" fill="#6c148a"/></g>
<rect x="438.80" y="203.60" width="60.50" height="5.0" fill="#c4c7ca"/><text x="469.55" y="207.60" font-size="3.1" font-weight="bold" text-anchor="middle" fill="#1a1a1a">Collagen/Coglass</text>
<g><rect x="467.60" y="228.30" width="21.60" height="2.46" fill="#e6d020"/><polygon points="467.60,228.30 477.44,228.30 472.52,238.39" fill="#e6d020"/><polygon points="469.49,229.61 475.31,229.61 472.44,235.11" fill="#b2a6ae"/></g>
<path d="M472.00,238.60 C471.92,239.25 471.45,241.91 471.53,242.50 C471.61,243.09 471.96,242.16 472.47,242.11 C472.98,242.06 474.30,241.42 474.57,242.19 C474.85,242.95 474.03,245.65 474.11,246.71 C474.18,247.78 475.37,248.08 475.04,248.58 C474.72,249.09 472.73,249.08 472.16,249.75 C471.58,250.43 472.01,251.95 471.61,252.64 C471.21,253.33 470.05,253.68 469.74,253.89" fill="none" stroke="#111" stroke-width="1.15" stroke-linejoin="round" stroke-linecap="round"/>
<g transform="translate(466.60,262.60) scale(0.84)"><g filter="url(#glow)" opacity="0.95"><line x1="-0.3" y1="0.2" x2="-1.9" y2="-11.2" stroke="#f8dfa4" stroke-width="10" stroke-linecap="round"/><line x1="-1.6" y1="0.6" x2="-6.2" y2="8.4" stroke="#f8dfa4" stroke-width="10" stroke-linecap="round"/><line x1="1.4" y1="-0.8" x2="8.6" y2="6.0" stroke="#f8dfa4" stroke-width="10" stroke-linecap="round"/></g><line x1="-0.3" y1="0.2" x2="-1.9" y2="-11.2" stroke="#d9a663" stroke-width="4.6"/><line x1="-0.3" y1="0.2" x2="-1.9" y2="-11.2" stroke="#cbbca2" stroke-width="3.4"/><line x1="-1.6" y1="0.6" x2="-6.2" y2="8.4" stroke="#d9a663" stroke-width="4.6"/><line x1="-1.6" y1="0.6" x2="-6.2" y2="8.4" stroke="#d5ae8c" stroke-width="3.4"/><line x1="-1.6" y1="0.6" x2="-6.2" y2="8.4" stroke="#a88070" stroke-width="2.6" stroke-dasharray="0.5,1.2"/><line x1="1.4" y1="-0.8" x2="8.6" y2="6.0" stroke="#d9a663" stroke-width="4.6"/><line x1="1.4" y1="-0.8" x2="8.6" y2="6.0" stroke="#d5ae8c" stroke-width="3.4"/><line x1="1.4" y1="-0.8" x2="8.6" y2="6.0" stroke="#a88070" stroke-width="2.6" stroke-dasharray="0.5,1.2"/></g>
<path d="M449.5,297.6 C449.5,286 456,276.5 468.5,276.5 C481,276.5 489,286 489,297.6 Z" fill="#afdf84"/>
<line x1="458.8" y1="279.9" x2="467.8" y2="276.1" stroke="#111" stroke-width="1.2"/>
<line x1="467.8" y1="276.1" x2="475.6" y2="279.3" stroke="#111" stroke-width="1.2"/>
<line x1="461.3" y1="287.4" x2="471.9" y2="286.5" stroke="#111" stroke-width="1.2"/>
<line x1="452.5" y1="291.8" x2="464.4" y2="293" stroke="#111" stroke-width="1.2"/>
<line x1="475.6" y1="294.3" x2="485.6" y2="293" stroke="#111" stroke-width="1.2"/>
<line x1="475.6" y1="279.3" x2="483.1" y2="285.5" stroke="#111" stroke-width="1.2"/>
<line x1="464.4" y1="293" x2="471.9" y2="286.5" stroke="#111" stroke-width="1.2"/>
<g><circle cx="460.96" cy="280.81" r="1.66" fill="#4e0466"/><circle cx="459.09" cy="282.23" r="1.66" fill="#4e0466"/><circle cx="456.93" cy="281.31" r="1.66" fill="#4e0466"/><circle cx="456.64" cy="278.99" r="1.66" fill="#4e0466"/><circle cx="458.51" cy="277.57" r="1.66" fill="#4e0466"/><circle cx="460.67" cy="278.49" r="1.66" fill="#4e0466"/><circle cx="458.80" cy="279.90" r="3.18" fill="#580872"/><circle cx="459.18" cy="279.71" r="1.70" fill="#6c148a"/></g>
<g><circle cx="469.96" cy="277.01" r="1.66" fill="#4e0466"/><circle cx="468.09" cy="278.43" r="1.66" fill="#4e0466"/><circle cx="465.93" cy="277.51" r="1.66" fill="#4e0466"/><circle cx="465.64" cy="275.19" r="1.66" fill="#4e0466"/><circle cx="467.51" cy="273.77" r="1.66" fill="#4e0466"/><circle cx="469.67" cy="274.69" r="1.66" fill="#4e0466"/><circle cx="467.80" cy="276.10" r="3.18" fill="#580872"/><circle cx="468.18" cy="275.91" r="1.70" fill="#6c148a"/></g>
<g><circle cx="477.76" cy="280.21" r="1.66" fill="#4e0466"/><circle cx="475.89" cy="281.63" r="1.66" fill="#4e0466"/><circle cx="473.73" cy="280.71" r="1.66" fill="#4e0466"/><circle cx="473.44" cy="278.39" r="1.66" fill="#4e0466"/><circle cx="475.31" cy="276.97" r="1.66" fill="#4e0466"/><circle cx="477.47" cy="277.89" r="1.66" fill="#4e0466"/><circle cx="475.60" cy="279.30" r="3.18" fill="#580872"/><circle cx="475.98" cy="279.11" r="1.70" fill="#6c148a"/></g>
<g><circle cx="485.26" cy="286.41" r="1.66" fill="#4e0466"/><circle cx="483.39" cy="287.83" r="1.66" fill="#4e0466"/><circle cx="481.23" cy="286.91" r="1.66" fill="#4e0466"/><circle cx="480.94" cy="284.59" r="1.66" fill="#4e0466"/><circle cx="482.81" cy="283.17" r="1.66" fill="#4e0466"/><circle cx="484.97" cy="284.09" r="1.66" fill="#4e0466"/><circle cx="483.10" cy="285.50" r="3.18" fill="#580872"/><circle cx="483.48" cy="285.31" r="1.70" fill="#6c148a"/></g>
<g><circle cx="463.46" cy="288.31" r="1.66" fill="#4e0466"/><circle cx="461.59" cy="289.73" r="1.66" fill="#4e0466"/><circle cx="459.43" cy="288.81" r="1.66" fill="#4e0466"/><circle cx="459.14" cy="286.49" r="1.66" fill="#4e0466"/><circle cx="461.01" cy="285.07" r="1.66" fill="#4e0466"/><circle cx="463.17" cy="285.99" r="1.66" fill="#4e0466"/><circle cx="461.30" cy="287.40" r="3.18" fill="#580872"/><circle cx="461.68" cy="287.21" r="1.70" fill="#6c148a"/></g>
<g><circle cx="474.06" cy="287.41" r="1.66" fill="#4e0466"/><circle cx="472.19" cy="288.83" r="1.66" fill="#4e0466"/><circle cx="470.03" cy="287.91" r="1.66" fill="#4e0466"/><circle cx="469.74" cy="285.59" r="1.66" fill="#4e0466"/><circle cx="471.61" cy="284.17" r="1.66" fill="#4e0466"/><circle cx="473.77" cy="285.09" r="1.66" fill="#4e0466"/><circle cx="471.90" cy="286.50" r="3.18" fill="#580872"/><circle cx="472.28" cy="286.31" r="1.70" fill="#6c148a"/></g>
<g><circle cx="454.66" cy="292.71" r="1.66" fill="#4e0466"/><circle cx="452.79" cy="294.13" r="1.66" fill="#4e0466"/><circle cx="450.63" cy="293.21" r="1.66" fill="#4e0466"/><circle cx="450.34" cy="290.89" r="1.66" fill="#4e0466"/><circle cx="452.21" cy="289.47" r="1.66" fill="#4e0466"/><circle cx="454.37" cy="290.39" r="1.66" fill="#4e0466"/><circle cx="452.50" cy="291.80" r="3.18" fill="#580872"/><circle cx="452.88" cy="291.61" r="1.70" fill="#6c148a"/></g>
<g><circle cx="466.56" cy="293.91" r="1.66" fill="#4e0466"/><circle cx="464.69" cy="295.33" r="1.66" fill="#4e0466"/><circle cx="462.53" cy="294.41" r="1.66" fill="#4e0466"/><circle cx="462.24" cy="292.09" r="1.66" fill="#4e0466"/><circle cx="464.11" cy="290.67" r="1.66" fill="#4e0466"/><circle cx="466.27" cy="291.59" r="1.66" fill="#4e0466"/><circle cx="464.40" cy="293.00" r="3.18" fill="#580872"/><circle cx="464.78" cy="292.81" r="1.70" fill="#6c148a"/></g>
<g><circle cx="477.76" cy="295.21" r="1.66" fill="#4e0466"/><circle cx="475.89" cy="296.63" r="1.66" fill="#4e0466"/><circle cx="473.73" cy="295.71" r="1.66" fill="#4e0466"/><circle cx="473.44" cy="293.39" r="1.66" fill="#4e0466"/><circle cx="475.31" cy="291.97" r="1.66" fill="#4e0466"/><circle cx="477.47" cy="292.89" r="1.66" fill="#4e0466"/><circle cx="475.60" cy="294.30" r="3.18" fill="#580872"/><circle cx="475.98" cy="294.11" r="1.70" fill="#6c148a"/></g>
<g><circle cx="487.76" cy="293.91" r="1.66" fill="#4e0466"/><circle cx="485.89" cy="295.33" r="1.66" fill="#4e0466"/><circle cx="483.73" cy="294.41" r="1.66" fill="#4e0466"/><circle cx="483.44" cy="292.09" r="1.66" fill="#4e0466"/><circle cx="485.31" cy="290.67" r="1.66" fill="#4e0466"/><circle cx="487.47" cy="291.59" r="1.66" fill="#4e0466"/><circle cx="485.60" cy="293.00" r="3.18" fill="#580872"/><circle cx="485.98" cy="292.81" r="1.70" fill="#6c148a"/></g>
<rect x="439.00" y="297.20" width="60.60" height="5.0" fill="#c4c7ca"/><text x="469.80" y="301.20" font-size="3.1" font-weight="bold" text-anchor="middle" fill="#1a1a1a">Collagen/Coglass</text>
<text x="7.6" y="17.6" font-size="12.2" font-weight="bold" fill="#000" stroke="#000" stroke-width="0.35">A</text>
<text x="268.4" y="18.1" font-size="12.2" font-weight="bold" fill="#000" stroke="#000" stroke-width="0.35">B</text>
<text transform="translate(28.6,169.6) rotate(-90)" font-size="8.9" text-anchor="middle" class="lb">Counts</text>
<text transform="translate(288.7,168.8) rotate(-90)" font-size="8.9" text-anchor="middle" class="lb">Counts</text>
<text x="148.8" y="336.6" font-size="9.0" text-anchor="middle" class="lb">Force (pN)</text>
<text x="409.5" y="336.6" font-size="9.0" text-anchor="middle" class="lb">Force (pN)</text>
<rect x="0" y="0" width="520" height="1.55" fill="#000"/>
<rect x="0" y="0" width="1.55" height="347" fill="#000"/>
<rect x="518.45" y="0" width="1.55" height="347" fill="#000"/>
<rect x="0" y="345.45" width="520" height="1.55" fill="#000"/>
</svg>
</body></html>
